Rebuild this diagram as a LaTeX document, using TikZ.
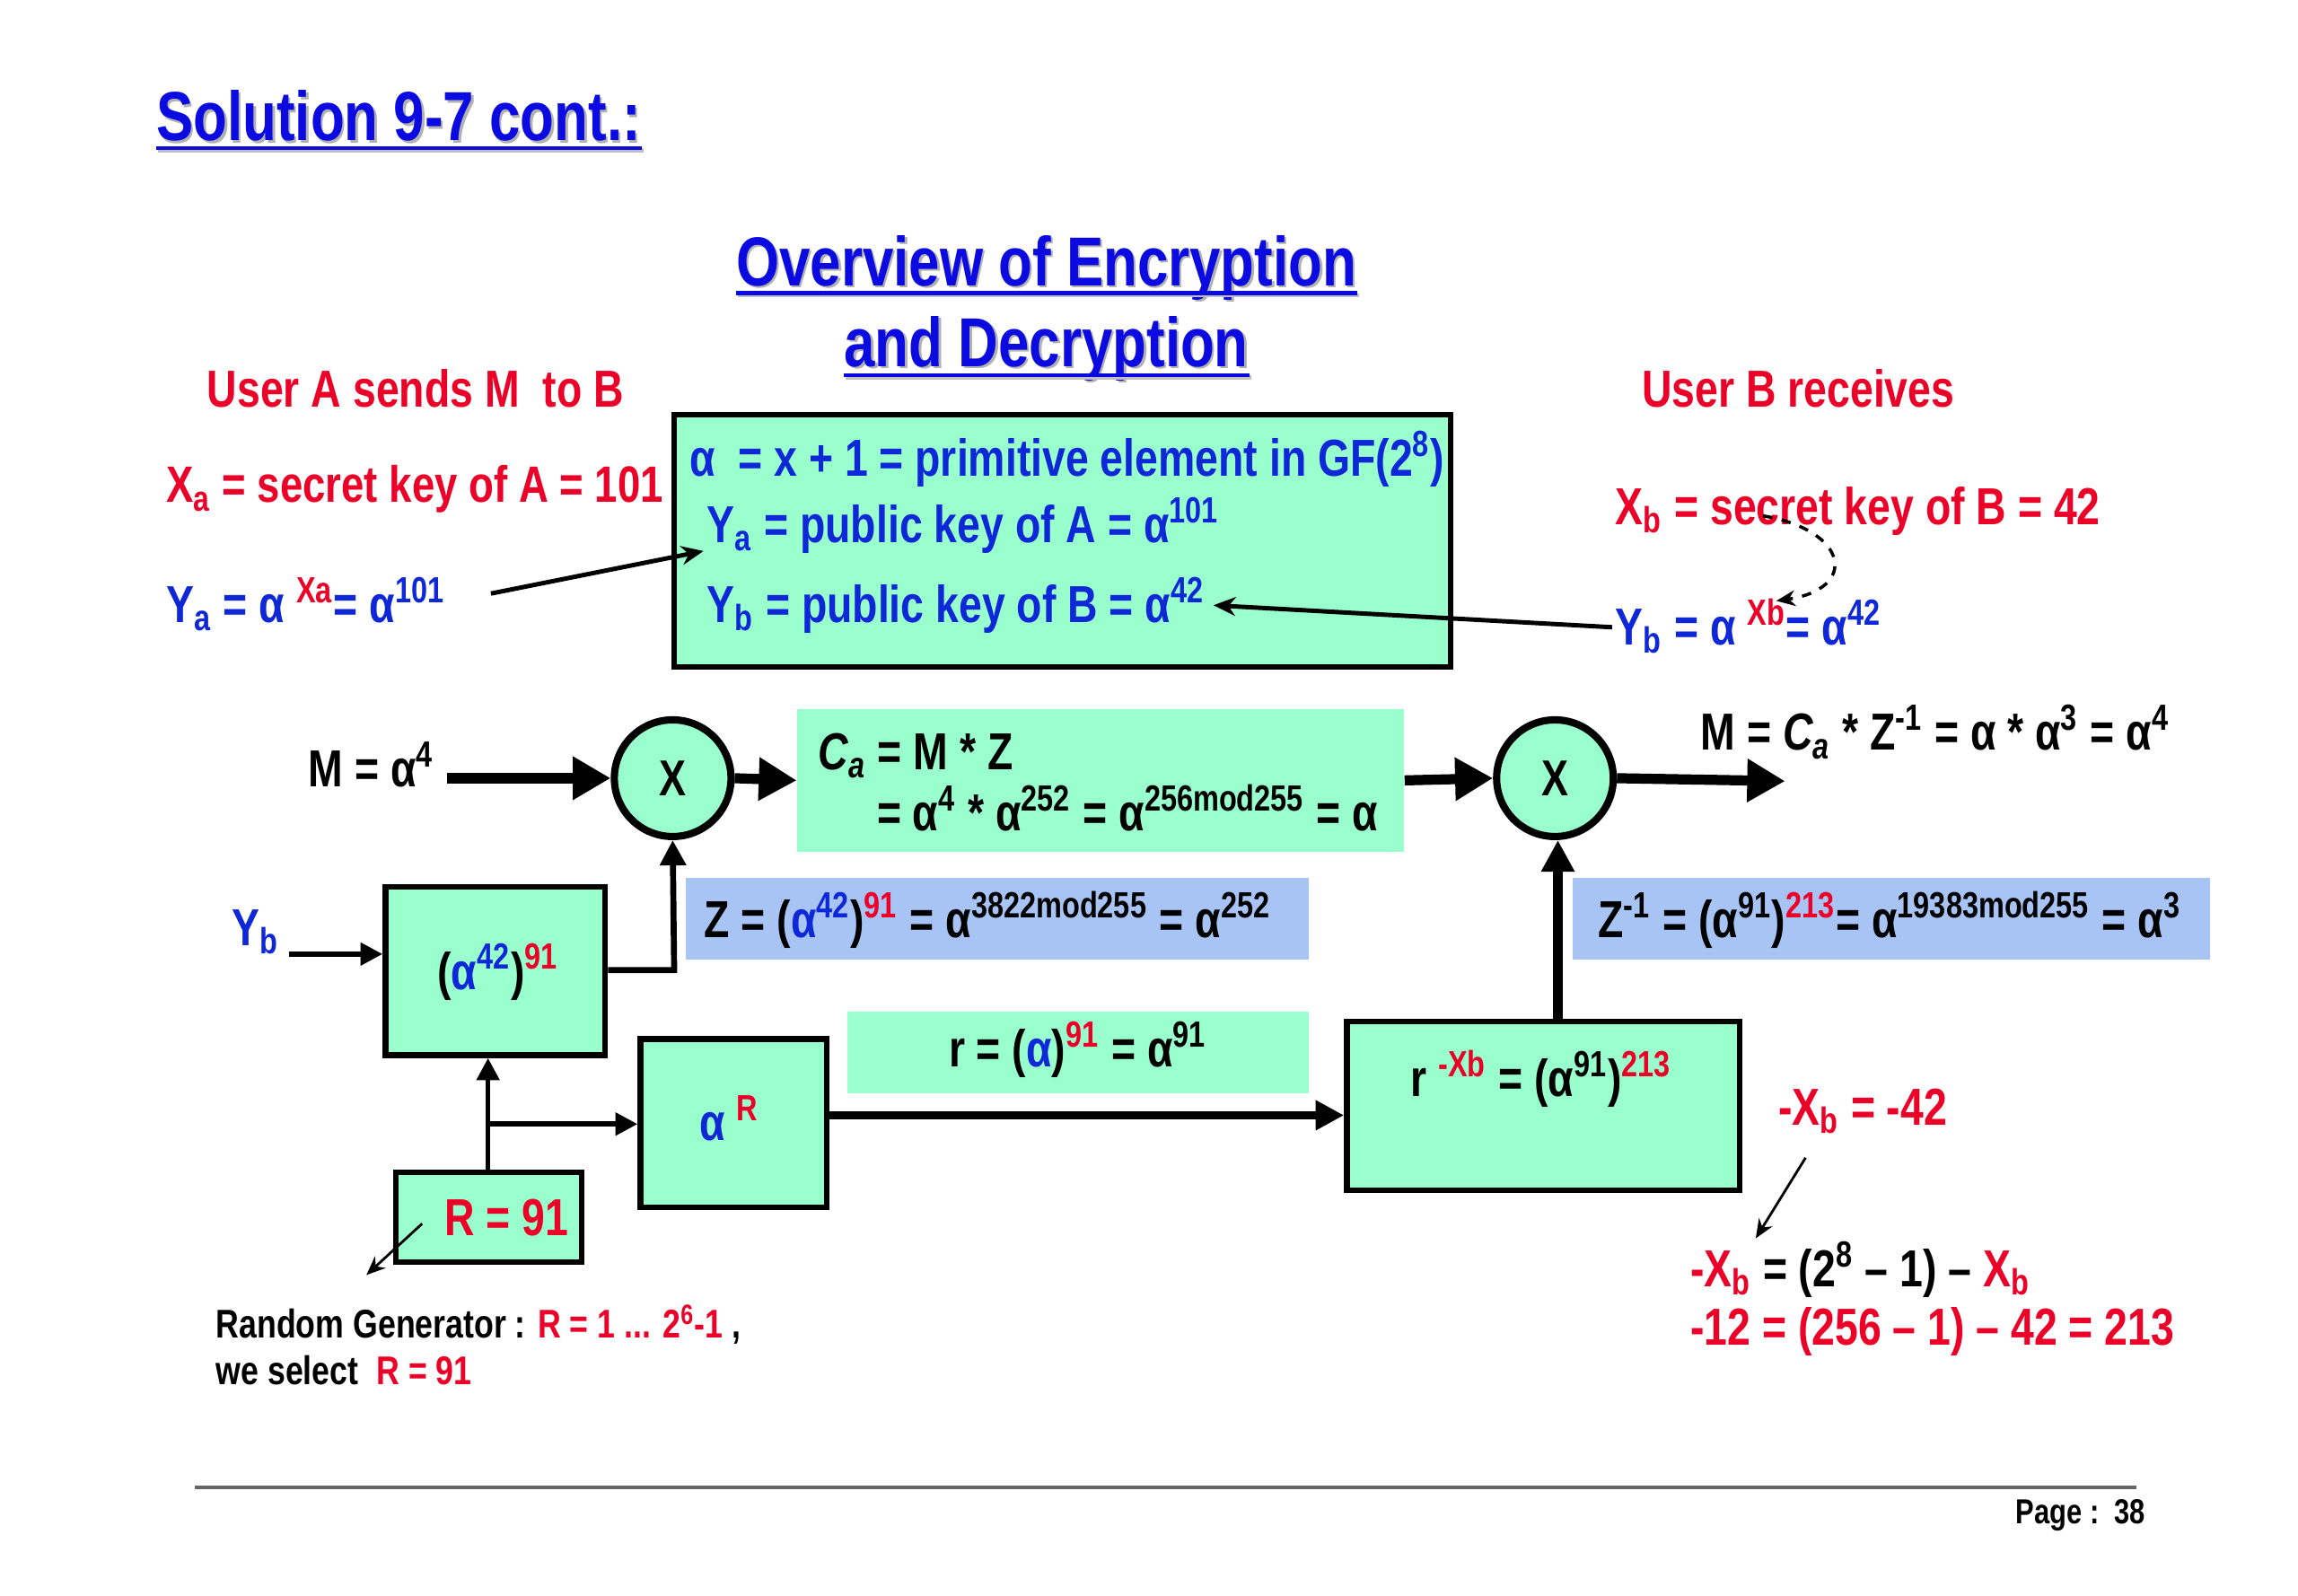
\documentclass[tikz,border=0pt]{standalone}
\usepackage{fontspec}
\setmainfont{Liberation Sans}[FakeStretch=0.8]
\usetikzlibrary{arrows.meta,calc}
\definecolor{myred}{RGB}{235,0,40}
\definecolor{tblue}{RGB}{10,10,225}
\definecolor{fblue}{RGB}{15,40,215}
\definecolor{mint}{RGB}{153,255,204}
\definecolor{zblue}{RGB}{168,196,245}
\newcommand\myup[1]{\textsuperscript{#1}}
\newcommand\mydn[1]{\textsubscript{#1}}
\newcommand\fs[1]{\fontsize{#1}{#1}\selectfont\bfseries}
\tikzset{
  txt/.style={inner sep=0pt,anchor=base west,font=\fs{16.5}},
  ttl/.style={inner sep=0pt,anchor=base,font=\fs{22},text=tblue},
  shd/.style={inner sep=0pt,anchor=base,font=\fs{22},text=black!30},
  ul/.style={draw=tblue,line width=1.3pt},
  bbox/.style={draw=black,line width=1.8pt,fill=mint,inner sep=0pt},
  fbox/.style={fill=mint,inner sep=0pt},
  zbox/.style={fill=zblue,inner sep=0pt},
  mult/.style={circle,draw=black,line width=2.3pt,fill=mint,minimum size=1.30cm,inner sep=0pt,font=\fs{16}},
  big/.style={line width=3.2pt,-{Triangle[length=12pt,width=13pt]}},
  thn/.style={line width=1.4pt,-{Stealth[length=7pt,width=6pt]}},
  hair/.style={line width=0.8pt,-{Stealth[length=6pt,width=5pt]}},
}
\begin{document}
\begin{tikzpicture}[x=0.016327cm,y=-0.016327cm]
\useasboundingbox (0,0) rectangle (1568,1089);
% titles
\node[shd] (t1s) at (273.5,97.5) {Solution 9-7 cont.:};
\node[ttl] (t1) at (272,96) {Solution 9-7 cont.:};
\draw[draw=black!25,line width=1.3pt] ($(t1.base west)+(1.5,6.5)$) -- ($(t1.base east)+(1.5,6.5)$);
\draw[ul] ($(t1.base west)+(0,5)$) -- ($(t1.base east)+(0,5)$);
\node[shd] (t2s) at (715.5,196.5) {Overview of Encryption};
\node[ttl] (t2) at (714,195) {Overview of Encryption};
\draw[draw=black!25,line width=1.3pt] ($(t2.base west)+(1.5,6.5)$) -- ($(t2.base east)+(1.5,6.5)$);
\draw[ul] ($(t2.base west)+(0,5)$) -- ($(t2.base east)+(0,5)$);
\node[shd] (t3s) at (715.5,251.5) {and Decryption};
\node[ttl] (t3) at (714,250) {and Decryption};
\draw[draw=black!25,line width=1.3pt] ($(t3.base west)+(1.5,7.5)$) -- ($(t3.base east)+(1.5,7.5)$);
\draw[ul] ($(t3.base west)+(0,6)$) -- ($(t3.base east)+(0,6)$);

% user labels
\node[txt,text=myred] (ua) at (141,278) {User A sends M\ \ to B};
\node[txt,text=myred] (ub) at (1120,278) {User B receives};
\node[txt,text=myred,font=\fs{16.2}] (xa) at (113,343) {X\mydn{a} = secret key of A = 101};
\node[txt,text=fblue] (yaeq) at (113,425) {Y\mydn{a} = α \myup{\color{myred}Xa}= α\myup{101}};
\node[txt,text=myred] (xb) at (1102,358) {X\mydn{b} = secret key of B = 42};
\node[txt,text=fblue] (ybeq) at (1102,440) {Y\mydn{b} = α \myup{\color{myred}Xb}= α\myup{42}};

% top box
\node[bbox,minimum width=8.653cm,minimum height=2.808cm] (keys) at (725,369) {};
\node[txt,text=fblue] (k1) at (470,325) {α\ \ = x + 1 = primitive element in GF(2\myup{8})};
\node[txt,text=fblue] (k2) at (482,370) {Y\mydn{a} = public key of A = α\myup{101}};
\node[txt,text=fblue] (k3) at (482,425) {Y\mydn{b} = public key of B = α\myup{42}};

\coordinate (yaS) at (335,405);
\coordinate (yaT) at (480,376);
\draw[thn] (yaS) -- (yaT);
\coordinate (ybS) at (1100,428);
\coordinate (ybT) at (828,413);
\draw[thn] (ybS) -- (ybT);
\coordinate (dS) at (1203,352);
\coordinate (dT) at (1212,410);
\draw[line width=1pt,dashed,-{Stealth[length=6pt,width=5pt]}] (dS) .. controls (1262,362) and (1268,402) .. (dT);

% encryption row
\node[txt,text=black] (mtxt) at (210,537) {M = α\myup{4}};
\node[mult] (c1) at (459,531) {X};
\node[fbox,minimum width=6.759cm,minimum height=1.584cm] (cabox) at (751,532.5) {};
\node[txt] (ca1) at (558,525) {{\itshape C\mydn{a}} = M * Z};
\node[txt] (ca2) at (598,567) {= α\myup{4} * α\myup{252} = α\myup{256mod255} = α};
\node[mult] (c2) at (1061,531) {X};
\node[txt] (mres) at (1160,512) {M = {\itshape C\mydn{a}} * Z\myup{-1} = α * α\myup{3} = α\myup{4}};
\coordinate (mS) at (305,531);
\draw[big] (mS) -- (c1.west);
\draw[big] (c1.east) -- (cabox.west);
\draw[big] (cabox.east) -- (c2.west);
\coordinate (outT) at (1218,533);
\draw[big] (c2.east) -- (outT);

% Z row
\node[txt,text=fblue] (ybl) at (158,645) {Y\mydn{b}};
\node[bbox,minimum width=2.449cm,minimum height=1.878cm] (pow) at (338,662.5) {};
\node[txt] (powt) at (298,675) {(\textcolor{fblue}{α\myup{42}})\myup{\color{myred}91}};
\node[zbox,minimum width=6.939cm,minimum height=0.914cm] (zb) at (680.5,627) {};
\node[txt] (zt) at (480,640) {Z = (\textcolor{fblue}{α\myup{42}})\myup{\color{myred}91} = α\myup{3822mod255} = α\myup{252}};
\node[zbox,minimum width=7.102cm,minimum height=0.914cm] (zib) at (1290.5,627) {};
\node[txt] (zit) at (1090,640) {Z\myup{-1} = (α\myup{91})\myup{\color{myred}213}= α\myup{19383mod255} = α\myup{3}};
\coordinate (ybS2) at (197,651);
\draw[line width=1.6pt,-{Triangle[length=7pt,width=7pt]}] (ybS2) -- (ybS2 -| pow.west);
\coordinate (pk) at (460,662);
\draw[line width=1.9pt,-{Triangle[length=8pt,width=8pt]}] (pk -| pow.east) -- (pk) -- (c1.south);

% lower row
\node[bbox,minimum width=2.074cm,minimum height=1.878cm] (ar) at (500.5,766.5) {};
\node[txt] (art) at (477,778) {\textcolor{fblue}{α} \myup{\color{myred}R}};
\node[fbox,minimum width=5.143cm,minimum height=0.914cm] (rb) at (735.5,718) {};
\node[txt] (rt) at (647,728) {r = (\textcolor{fblue}{α})\myup{\color{myred}91} = α\myup{91}};
\node[bbox,minimum width=4.376cm,minimum height=1.878cm] (rx) at (1053,754.5) {};
\node[txt] (rxt) at (962,748) {r \myup{\color{myred}-Xb} = (α\myup{91})\myup{\color{myred}213}};
\node[bbox,minimum width=2.074cm,minimum height=0.996cm] (rr) at (333.5,830.5) {};
\node[txt,text=myred,font=\fs{16.5}] (rrt) at (303,843) {R = 91};
\draw[line width=1.6pt,-{Triangle[length=7pt,width=7pt]}] (rr.north -| 333,0) -- (pow.south -| 333,0);
\coordinate (br) at (333,767);
\draw[line width=1.6pt,-{Triangle[length=7pt,width=7pt]}] (br) -- (br -| ar.west);
\coordinate (arS) at (564,761);
\draw[line width=2.6pt,-{Triangle[length=9pt,width=9pt]}] (arS) -- (arS -| rx.west);
\coordinate (rxN) at (1063,697);
\draw[line width=3pt,-{Triangle[length=10pt,width=10pt]}] (rxN) -- (c2.south -| rxN);

\coordinate (gS) at (288,835);
\coordinate (gT) at (250,870);
\draw[hair] (gS) -- (gT);
\node[txt,font=\fs{12.7}] (rg1) at (147,913) {Random Generator : \textcolor{myred}{R = 1 ... 2\myup{6}-1} ,};
\node[txt,font=\fs{12.7}] (rg2) at (147,945) {we select\ \ \textcolor{myred}{R = 91}};

% right notes
\node[txt,text=myred] (nx) at (1213,768) {-X\mydn{b} = -42};
\coordinate (nS) at (1232,790);
\coordinate (nT) at (1198,845);
\draw[hair] (nS) -- (nT);
\node[txt] (nf1) at (1153,878) {\textcolor{myred}{-X\mydn{b}} = (2\myup{8} – 1) – \textcolor{myred}{X\mydn{b}}};
\node[txt,text=myred] (nf2) at (1153,918) {-12 = (256 – 1) – 42 = 213};

% footer
\coordinate (fl) at (133,1015);
\coordinate (fr) at (1458,1015);
\draw[line width=1pt,black!60] (fl) -- (fr);
\node[txt,font=\fs{11}] (pg) at (1375,1040) {Page :\ \ 38};
\end{tikzpicture}
\end{document}
